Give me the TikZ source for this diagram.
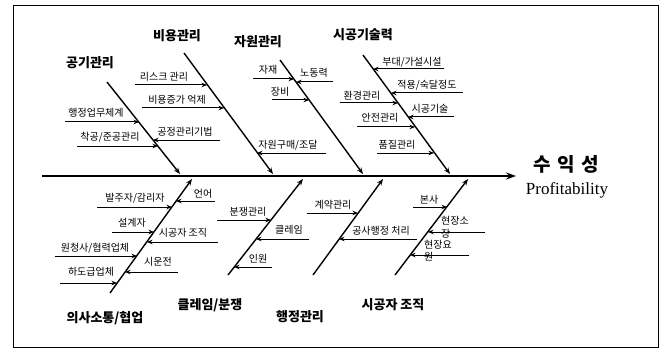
\documentclass[tikz,border=0pt]{standalone}
\usepackage{fontspec}
\setmainfont{Liberation Serif}
\newfontfamily\kr{Noto Sans CJK KR}
\usetikzlibrary{arrows.meta}

\tikzset{
  bone/.style={draw, line width=1.4pt, -{Stealth[length=6.5pt,width=5pt]}},
  twig/.style={draw, line width=1pt, -{Stealth[length=5.5pt,width=4.5pt]}},
  cause/.style={font=\kr\bfseries\fontsize{13}{15}\selectfont},
  item/.style={font=\kr\fontsize{10}{13}\selectfont, inner sep=0pt},
}

\begin{document}
\begin{tikzpicture}[x=1pt,y=-1pt]
  \useasboundingbox (0,0) rectangle (666,350);
  \draw[line width=0.8pt] (13,5) rectangle (658,347);

  % spine and head
  \coordinate (s0) at (42,176);
  \coordinate (s1) at (516,176);
  \draw[line width=2.4pt, -{Stealth[length=10pt,width=7pt]}] (s0) -- (s1);
  \node[font=\kr\bfseries\fontsize{19}{20}\selectfont] (h1) at (566,164) {수\,\,익\,\,성};
  \node[font=\fontsize{17}{18}\selectfont] (h2) at (567,190) {Profitability};

  % bones
  \coordinate (t1a) at (107,82);  \coordinate (t1b) at (180,174);
  \coordinate (t2a) at (184,53);  \coordinate (t2b) at (273,174);
  \coordinate (t3a) at (280,60);  \coordinate (t3b) at (363,174);
  \coordinate (t4a) at (363,55);  \coordinate (t4b) at (450,174);
  \coordinate (b1a) at (110,293); \coordinate (b1b) at (192,179);
  \coordinate (b2a) at (228,275); \coordinate (b2b) at (303,179);
  \coordinate (b3a) at (313,275); \coordinate (b3b) at (383,179);
  \coordinate (b4a) at (395,275); \coordinate (b4b) at (468,179);

  \begin{scope}[every edge/.style={bone}]
    \path (t1a) edge (t1b);
    \path (t2a) edge (t2b);
    \path (t3a) edge (t3b);
    \path (t4a) edge (t4b);
    \path (b1a) edge (b1b);
    \path (b2a) edge (b2b);
    \path (b3a) edge (b3b);
    \path (b4a) edge (b4b);
  \end{scope}

  \begin{scope}[every node/.style={cause}]
    \node (k1) at (90,63)   {공기관리};
    \node (k2) at (177,36)  {비용관리};
    \node (k3) at (258,42)  {자원관리};
    \node (k4) at (363,35)  {시공기술력};
    \node (k5) at (105,318) {의사소통/협업};
    \node (k6) at (210,305) {클레임/분쟁};
    \node (k7) at (300,317) {행정관리};
    \node (k8) at (393,305) {시공자 조직};
  \end{scope}

  % twigs: free end (pN) and tip on the bone (qN)
  \coordinate (p1)  at (65,122);  \coordinate (q1)  at (139,122);
  \coordinate (p2)  at (77,146);  \coordinate (q2)  at (158,146);
  \coordinate (p3)  at (220,140); \coordinate (q3)  at (153,140);
  \coordinate (p4)  at (135,85);  \coordinate (q4)  at (207,85);
  \coordinate (p5)  at (142,108); \coordinate (q5)  at (224,108);
  \coordinate (p6)  at (326,153); \coordinate (q6)  at (257,153);
  \coordinate (p7)  at (253,79);  \coordinate (q7)  at (294,79);
  \coordinate (p8)  at (333,82);  \coordinate (q8)  at (296,82);
  \coordinate (p9)  at (272,100); \coordinate (q9)  at (309,100);
  \coordinate (p10) at (444,69);  \coordinate (q10) at (373,69);
  \coordinate (p11) at (463,93);  \coordinate (q11) at (391,93);
  \coordinate (p12) at (340,103); \coordinate (q12) at (398,103);
  \coordinate (p13) at (454,117); \coordinate (q13) at (408,117);
  \coordinate (p14) at (357,127); \coordinate (q14) at (415,127);
  \coordinate (p15) at (377,153); \coordinate (q15) at (434,153);
  \coordinate (p16) at (97,207);  \coordinate (q16) at (172,207);
  \coordinate (p17) at (215,201); \coordinate (q17) at (176,201);
  \coordinate (p18) at (112,232); \coordinate (q18) at (154,232);
  \coordinate (p19) at (218,242); \coordinate (q19) at (147,242);
  \coordinate (p20) at (55,256);  \coordinate (q20) at (137,256);
  \coordinate (p21) at (178,272); \coordinate (q21) at (125,272);
  \coordinate (p22) at (60,283);  \coordinate (q22) at (117,283);
  \coordinate (p23) at (217,220); \coordinate (q23) at (271,220);
  \coordinate (p24) at (309,239); \coordinate (q24) at (256,239);
  \coordinate (p25) at (272,267); \coordinate (q25) at (234,267);
  \coordinate (p26) at (307,213); \coordinate (q26) at (358,213);
  \coordinate (p27) at (417,239); \coordinate (q27) at (339,239);
  \coordinate (p28) at (413,207); \coordinate (q28) at (447,207);
  \coordinate (p29) at (485,232); \coordinate (q29) at (428,232);
  \coordinate (p30) at (469,255); \coordinate (q30) at (410,255);

  \begin{scope}[every edge/.style={twig}]
    \foreach \i in {1,...,30} {
      \path (p\i) edge (q\i);
    }
  \end{scope}

  \begin{scope}[every node/.style={item}]
    \node (n1)  at (96,113)  {행정업무체계};
    \node (n2)  at (110,137) {착공/준공관리};
    \node (n3)  at (185,132) {공정관리기법};
    \node (n4)  at (164,77)  {리스크 관리};
    \node (n5)  at (177,100) {비용증가 억제};
    \node (n6)  at (288,145) {자원구매/조달};
    \node (n7)  at (268,70)  {자재};
    \node (n8)  at (314,73)  {노동력};
    \node (n9)  at (280,92)  {장비};
    \node (n10) at (412,62)  {부대/가설시설};
    \node (n11) at (427,85)  {적용/숙달정도};
    \node (n12) at (362,96)  {환경관리};
    \node (n13) at (430,109) {시공기술};
    \node (n14) at (380,118) {안전관리};
    \node (n15) at (397,145) {품질관리};
    \node (n16) at (135,198) {발주자/감리자};
    \node (n17) at (203,194) {언어};
    \node (n18) at (132,223) {설계자};
    \node (n19) at (183,233) {시공자 조직};
    \node (n20) at (95,248)  {원청사/협력업체};
    \node (n21) at (158,262) {시운전};
    \node (n22) at (91,272)  {하도급업체};
    \node (n23) at (248,212) {분쟁관리};
    \node (n24) at (289,230) {클레임};
    \node (n25) at (258,259) {인원};
    \node (n26) at (333,205) {계약관리};
    \node (n27) at (381,231) {공사행정 처리};
    \node (n28) at (429,200) {본사};
    \node[align=left, anchor=north west] (n29) at (441,216) {현장소\\[0pt]장};
    \node[align=left, anchor=north west] (n30) at (424,240) {현장요\\[-1pt]원};
  \end{scope}

\end{tikzpicture}
\end{document}
